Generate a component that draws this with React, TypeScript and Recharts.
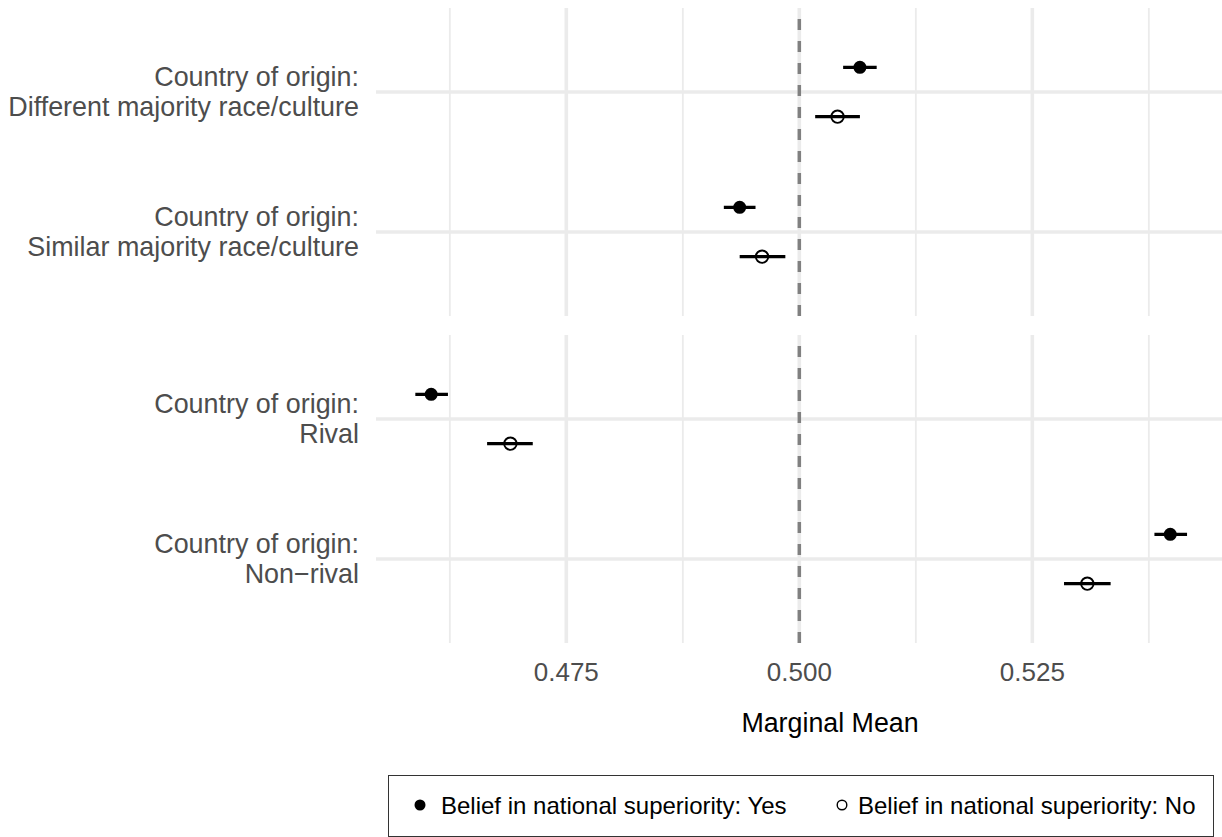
import { ScatterChart, Scatter, XAxis, YAxis, ErrorBar, ReferenceLine, Legend } from "recharts";

// Attribute levels, in top-to-bottom order
const categories = [
  "Different majority race/culture",
  "Similar majority race/culture",
  "Rival",
  "Non\u2212rival",
];
const labelPrefix = "Country of origin:";

// Marginal means and 95% intervals, "Belief in national superiority: Yes"
const yesMean = [0.5065, 0.4936, 0.4605, 0.5398];
const yesLower = [0.5047, 0.4919, 0.4588, 0.5381];
const yesUpper = [0.5083, 0.4953, 0.4623, 0.5416];

// Same for "Belief in national superiority: No"
const noMean = [0.5041, 0.496, 0.469, 0.5309];
const noLower = [0.5017, 0.4936, 0.4665, 0.5284];
const noUpper = [0.5065, 0.4985, 0.4714, 0.5334];

const majorTicks = [0.475, 0.5, 0.525];
const minorTicks = [0.4625, 0.4875, 0.5125, 0.5375];

// which categories go into which facet
const topPanel = [0, 1];
const bottomPanel = [2, 3];

const X_DOMAIN: [number, number] = [0.45458, 0.54535];
const Y_DOMAIN: [number, number] = [0.4, 2.6];
const DODGE = 0.176;
const FONT = "'Liberation Sans', Arial, Helvetica, sans-serif";
const GRID = "#ebebeb";

function buildSeries(idx: number[], mean: number[], lower: number[], upper: number[], shift: number) {
  return idx.map((ci, k) => ({
    x: mean[ci],
    y: idx.length - k + shift,
    err: [mean[ci] - lower[ci], upper[ci] - mean[ci]],
  }));
}

const FilledDot = (p: any) => <circle cx={p.cx} cy={p.cy} r={6.5} fill="#000" />;
const OpenDot = (p: any) => (
  <circle cx={p.cx} cy={p.cy} r={6.2} fill="none" stroke="#000" strokeWidth={1.9} />
);

const categoryTick = (idx: number[]) => (props: any) => {
  const { x, y, payload } = props;
  const ci = idx[idx.length - Math.round(payload.value)];
  return (
    <text textAnchor="end" fill="#4d4d4d" fontSize={26.9} fontFamily={FONT}>
      <tspan x={x} y={y - 6}>
        {labelPrefix}
      </tspan>
      <tspan x={x} y={y + 24}>
        {categories[ci]}
      </tspan>
    </text>
  );
};

const ValueTick = (props: any) => {
  const { x, y, payload } = props;
  return (
    <text x={x} y={y + 38} textAnchor="middle" fill="#4d4d4d" fontSize={26} fontFamily={FONT}>
      {Number(payload.value).toFixed(3)}
    </text>
  );
};

function gridLines() {
  return [
    ...minorTicks.map((v) => (
      <ReferenceLine key={`mn${v}`} x={v} stroke={GRID} strokeWidth={1.8} />
    )),
    ...majorTicks.map((v) => (
      <ReferenceLine key={`mj${v}`} x={v} stroke={GRID} strokeWidth={3.6} />
    )),
    ...[1, 2].map((v) => <ReferenceLine key={`h${v}`} y={v} stroke={GRID} strokeWidth={3.6} />),
    <ReferenceLine key="ref" x={0.5} stroke="#808080" strokeWidth={3.5} strokeDasharray="11 11" />,
  ];
}

function series(idx: number[]) {
  return [
    <Scatter
      key="yes"
      name="Belief in national superiority: Yes"
      data={buildSeries(idx, yesMean, yesLower, yesUpper, DODGE)}
      shape={FilledDot}
      isAnimationActive={false}
    >
      <ErrorBar dataKey="err" direction="x" width={0} stroke="#000" strokeWidth={3.3} />
    </Scatter>,
    <Scatter
      key="no"
      name="Belief in national superiority: No"
      data={buildSeries(idx, noMean, noLower, noUpper, -DODGE)}
      shape={OpenDot}
      isAnimationActive={false}
    >
      <ErrorBar dataKey="err" direction="x" width={0} stroke="#000" strokeWidth={3.3} />
    </Scatter>,
  ];
}

const LegendBox = () => (
  <div
    style={{
      marginLeft: 388,
      width: 826,
      height: 62,
      boxSizing: "border-box",
      border: "1.5px solid #333",
      position: "relative",
      fontFamily: FONT,
      fontSize: 24,
      color: "#000",
    }}
  >
    <svg width={14} height={14} style={{ position: "absolute", left: 24, top: 22 }}>
      <circle cx={7} cy={7} r={5.5} fill="#000" />
    </svg>
    <span style={{ position: "absolute", left: 52, top: 0, lineHeight: "59px", whiteSpace: "nowrap" }}>
      Belief in national superiority: Yes
    </span>
    <svg width={14} height={14} style={{ position: "absolute", left: 446, top: 22 }}>
      <circle cx={7} cy={7} r={4.8} fill="none" stroke="#000" strokeWidth={1.4} />
    </svg>
    <span style={{ position: "absolute", left: 469, top: 0, lineHeight: "59px", whiteSpace: "nowrap" }}>
      Belief in national superiority: No
    </span>
  </div>
);

export default function App() {
  return (
    <div
      style={{
        position: "absolute",
        left: 0,
        top: 0,
        width: 1222,
        height: 837,
        background: "#fff",
        overflow: "hidden",
      }}
    >
      <div style={{ position: "absolute", left: 0, top: 0 }}>
        <ScatterChart width={1222} height={316} margin={{ top: 8, right: 0, bottom: 0, left: 0 }}>
          <XAxis type="number" dataKey="x" domain={X_DOMAIN} allowDataOverflow hide />
          <YAxis
            type="number"
            dataKey="y"
            domain={Y_DOMAIN}
            ticks={[1, 2]}
            interval={0}
            width={376}
            tickSize={0}
            tickMargin={17}
            axisLine={false}
            tickLine={false}
            tick={categoryTick(topPanel)}
          />
          {gridLines()}
          {series(topPanel)}
        </ScatterChart>
      </div>
      <div style={{ position: "absolute", left: 0, top: 335 }}>
        <ScatterChart width={1222} height={502} margin={{ top: 0, right: 0, bottom: 0, left: 0 }}>
          <XAxis
            type="number"
            dataKey="x"
            domain={X_DOMAIN}
            allowDataOverflow
            ticks={majorTicks}
            interval={0}
            height={132}
            tickSize={0}
            tickMargin={0}
            axisLine={false}
            tickLine={false}
            tick={ValueTick}
            label={{
              content: (p: any) => {
                const vb = p.viewBox;
                return (
                  <text
                    x={vb.x + vb.width / 2 + 31}
                    y={vb.y + 89}
                    textAnchor="middle"
                    fill="#000"
                    fontSize={26.8}
                    fontFamily={FONT}
                  >
                    Marginal Mean
                  </text>
                );
              },
            }}
          />
          <YAxis
            type="number"
            dataKey="y"
            domain={Y_DOMAIN}
            ticks={[1, 2]}
            interval={0}
            width={376}
            tickSize={0}
            tickMargin={17}
            axisLine={false}
            tickLine={false}
            tick={categoryTick(bottomPanel)}
          />
          {gridLines()}
          {series(bottomPanel)}
          <Legend
            verticalAlign="bottom"
            wrapperStyle={{ left: 0, bottom: 0, width: 1222 }}
            content={() => <LegendBox />}
          />
        </ScatterChart>
      </div>
    </div>
  );
}
